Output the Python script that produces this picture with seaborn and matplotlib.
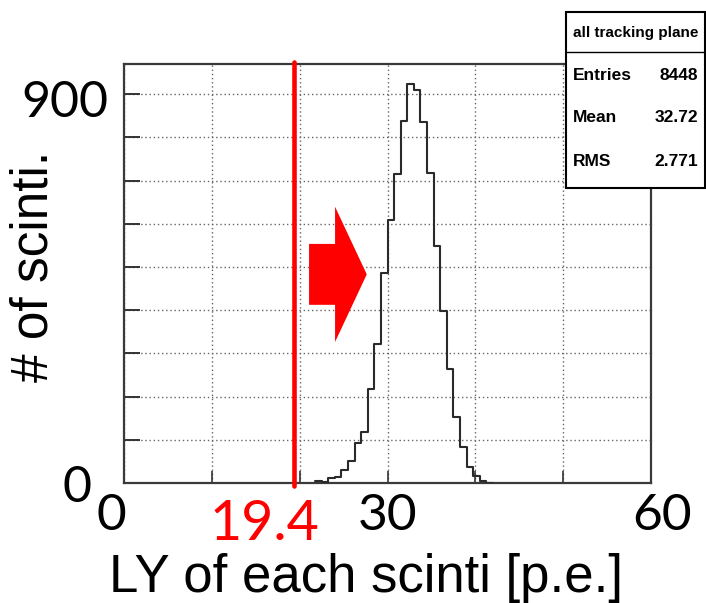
import numpy as np
import pandas as pd
import matplotlib
matplotlib.use("Agg")
import matplotlib.pyplot as plt
import matplotlib.transforms as mtransforms
from matplotlib.patches import Rectangle, FancyArrow
from matplotlib.lines import Line2D
import seaborn as sns

# ---------------- data ----------------
bin_width = 0.75
first_edge = 21.75
counts = [4, 2, 12, 15, 30, 51, 92, 119, 218, 321, 487, 609, 715, 838,
          924, 910, 835, 718, 549, 398, 263, 153, 83, 38, 16, 5, 1]
threshold = 19.4

x_range = (0, 60)
y_range = (0, 970)
x_tick_values = [0, 19.4, 30, 60]
x_tick_labels = ["0", "19.4", "30", "60"]
y_tick_values = [0, 900]
y_tick_labels = ["0", "900"]
x_mark_values = [0, 10, 20, 30, 40, 50, 60]
y_mark_values = [0, 100, 200, 300, 400, 500, 600, 700, 800, 900]

stats_title = "all tracking plane"
stats_names = ["Entries", "Mean", "RMS"]
stats_values = ["8448", "32.72", "2.771"]

x_label = "LY of each scinti [p.e.]"
y_label = "# of scinti."

# arrow annotation (data units)
arrow_tail_x = 21.07
arrow_tip_x = 27.64
arrow_mid_y = 483
arrow_body_h = 141
arrow_head_h = 313
arrow_head_len = 3.61

# ---------------- build ----------------
n = len(counts)
centers = first_edge + bin_width * (np.arange(n) + 0.5)
df = pd.DataFrame({"ly": centers, "n": counts})

sns.set_style("white")
plt.rcParams["font.family"] = ["Liberation Sans", "DejaVu Sans"]
plt.rcParams["text.color"] = "black"

W, H = 706, 603
fig = plt.figure(figsize=(W / 100, H / 100), dpi=100)
ax = fig.add_axes([124 / W, 1 - 483 / H, (651 - 124) / W, (483 - 64) / H])

sns.histplot(data=df, x="ly", weights="n", binwidth=bin_width,
             binrange=(first_edge, first_edge + n * bin_width), element="step",
             fill=False, color="#2a2a2a", linewidth=1.5, ax=ax, zorder=3)

ax.set_xlim(*x_range)
ax.set_ylim(*y_range)
ax.set_xlabel("")
ax.set_ylabel("")

# tick marks (ROOT style, inside) as minor ticks, no labels
ax.set_xticks([])
ax.set_yticks([])
ax.set_xticks(x_mark_values, minor=True)
ax.set_yticks(y_mark_values, minor=True)
ax.tick_params(which="minor", direction="in", length=9, width=1.2,
               color="#333333", bottom=True, left=True, top=False, right=False,
               labelbottom=False, labelleft=False)
ax.tick_params(axis="y", which="minor", length=11.5, width=1.4)
ax.grid(which="minor", linestyle=(0, (1, 2)), color="#666666", linewidth=1.0)
ax.set_axisbelow(True)

for sp in ax.spines.values():
    sp.set_color("#3a3a3a")
    sp.set_linewidth(1.6)

# threshold line
ax.axvline(threshold, color="#ff0000", linewidth=3.3, ymin=-0.008, ymax=1.004,
           clip_on=False, zorder=4)

# arrow
ax.add_patch(FancyArrow(arrow_tail_x, arrow_mid_y, arrow_tip_x - arrow_tail_x, 0,
                        width=arrow_body_h, head_width=arrow_head_h,
                        head_length=arrow_head_len, length_includes_head=True,
                        color="#ff0000", linewidth=0, zorder=5))

# big tick labels
num_font = ["Lato", "DejaVu Sans"]
xblend = mtransforms.blended_transform_factory(ax.transData, ax.transAxes)
yblend = mtransforms.blended_transform_factory(ax.transAxes, ax.transData)
x_offsets_px = [(-13, -47), (-30, -57), (0, -47), (11, -47)]
x_sizes = [37, 40, 37, 37]
x_colors = ["black", "#ff0000", "black", "black"]
for v, lab, (dx, dy), fs, c in zip(x_tick_values, x_tick_labels, x_offsets_px,
                                   x_sizes, x_colors):
    tr = xblend + mtransforms.ScaledTranslation(dx / 100, dy / 100, fig.dpi_scale_trans)
    ax.text(v, 0, lab, transform=tr, ha="center", va="baseline",
            fontsize=fs, color=c, family=num_font, clip_on=False)

y_offsets_px = [(-32, -19), (-16, -23)]
for v, lab, (dx, dy) in zip(y_tick_values, y_tick_labels, y_offsets_px):
    tr = yblend + mtransforms.ScaledTranslation(dx / 100, dy / 100, fig.dpi_scale_trans)
    ax.text(0, v, lab, transform=tr, ha="right", va="baseline",
            fontsize=36, color="black", family=num_font, clip_on=False)

# axis titles
fig.text(366 / W, 1 - 592 / H, x_label, ha="center", va="baseline",
         fontsize=38, color="black")
fig.text(34 / W, 1 - 266 / H, y_label, ha="center", va="center",
         rotation=90, fontsize=37, color="black")

# stats box
bx0, bx1, by_top, by_bot = 566 / W, 704.5 / W, 1 - 12 / H, 1 - 188 / H
fig.add_artist(Rectangle((bx0, by_bot), bx1 - bx0, by_top - by_bot,
                         transform=fig.transFigure, facecolor="white",
                         edgecolor="black", linewidth=1.5, zorder=10))
fig.add_artist(Line2D([bx0, bx1], [1 - 52 / H, 1 - 52 / H],
                      transform=fig.transFigure, color="black",
                      linewidth=1.0, zorder=11))
fig.text((bx0 + bx1) / 2, 1 - 33 / H, stats_title, ha="center", va="center",
         fontsize=11, fontweight="bold", color="black", zorder=12)
for i, (nm, val) in enumerate(zip(stats_names, stats_values)):
    yy = 1 - [76, 118, 161][i] / H
    fig.text(573 / W, yy, nm, ha="left", va="center", fontsize=12.5,
             fontweight="bold", color="black", zorder=12)
    fig.text(698 / W, yy, val, ha="right", va="center", fontsize=12.5,
             fontweight="bold", color="black", zorder=12)

fig.savefig("out.png", dpi=100)
